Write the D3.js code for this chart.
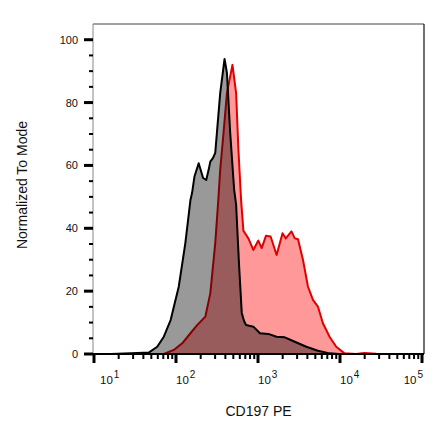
<!DOCTYPE html>
<html>
<head>
<meta charset="utf-8">
<script src="https://cdn.jsdelivr.net/npm/d3@7"></script>
<style>
  body { margin: 0; background: #fff; }
  svg { display: block; font-family: "Liberation Sans", Arial, sans-serif; }
</style>
</head>
<body>
<div id="chart"></div>
<script>
// control (isotype) histogram
var controlX = [10, 16, 34, 47, 59, 71, 86, 108, 130, 150, 157, 168, 189, 214, 234, 250, 262, 282, 301,
  346, 391, 418, 458, 512, 541, 589, 634, 676, 716, 878, 1057, 1333, 1686, 2124, 2808, 3890, 5380, 7460, 9860, 100000];
var controlY = [0, 0, 0.3, 0.5, 2.3, 5.5, 10.8, 21.4, 35.3, 49, 51.2, 56.5, 60.7, 56, 55.4, 58.6, 61.2, 62.3, 64,
  83, 93.9, 89.4, 70.4, 52.2, 47.5, 27.8, 13, 10.5, 9.2, 8.7, 6.6, 6.4, 5.5, 5.3, 3.9, 2.3, 1.05, 0.2, 0, 0];

// CD197 PE stained sample
var sampleX = [10, 71, 94, 119, 150, 181, 228, 262, 301, 328, 346, 380, 418, 488, 541, 577, 622, 664, 763, 877,
  1009, 1109, 1250, 1425, 1686, 1991, 2183, 2560, 2808, 3078, 3539, 4070, 4680, 5380, 6190, 7460, 8990,
  11350, 15700, 19800, 27500, 45800, 100000];
var sampleY = [0, 0, 1.3, 3.4, 6.6, 9.2, 11.9, 19.3, 35.3, 49, 58.6, 70.4, 83, 92, 83, 65, 49, 39.2, 36.8, 33.1,
  36.1, 33.7, 37.6, 37.4, 31.5, 38.4, 36.8, 39, 36.8, 36.5, 29.9, 21.4, 17.2, 15.1, 9.8, 5.5, 2.3,
  0.2, 0, 0.3, 0.1, 0, 0];

var xTicks = [10, 100, 1000, 10000, 100000];
var xTickExp = ["1", "2", "3", "4", "5"];
var yTicks = [0, 20, 40, 60, 80, 100];

var width = 440, height = 441;
var pLeft = 93, pRight = 424, pTop = 24, pBottom = 354;

var x = d3.scaleLog().domain([10, 100000]).range([94, 422]);
var y = d3.scaleLinear().domain([0, 105]).range([pBottom, pTop]);

var svg = d3.select("#chart").append("svg")
  .attr("width", width)
  .attr("height", height);

svg.append("defs").append("clipPath").attr("id", "plot")
  .append("rect").attr("x", pLeft).attr("y", pTop - 2)
  .attr("width", pRight - pLeft).attr("height", pBottom - pTop + 4);

var control = controlX.map(function (v, i) { return [v, controlY[i]]; });
var sample = sampleX.map(function (v, i) { return [v, sampleY[i]]; });

var area = d3.area()
  .x(function (d) { return x(d[0]); })
  .y0(y(0))
  .y1(function (d) { return y(d[1]); });
var line = d3.line()
  .x(function (d) { return x(d[0]); })
  .y(function (d) { return y(d[1]); });

var g = svg.append("g").attr("clip-path", "url(#plot)");

// stained sample first, control laid on top of it
g.append("path").attr("d", area(sample)).attr("fill", "rgba(255,0,0,0.4)");
g.append("path").attr("d", line(sample)).attr("fill", "none")
  .attr("stroke", "#e00000").attr("stroke-width", 2).attr("stroke-linejoin", "round");

g.append("path").attr("d", area(control)).attr("fill", "rgba(0,0,0,0.4)");
g.append("path").attr("d", line(control)).attr("fill", "none")
  .attr("stroke", "#000").attr("stroke-width", 2).attr("stroke-linejoin", "round");

// frame
svg.append("line").attr("x1", pLeft).attr("x2", pRight).attr("y1", pTop).attr("y2", pTop)
  .attr("stroke", "#444").attr("stroke-width", 1);
svg.append("line").attr("x1", pRight).attr("x2", pRight).attr("y1", pTop).attr("y2", pBottom)
  .attr("stroke", "#222").attr("stroke-width", 1.3);
svg.append("line").attr("x1", pLeft).attr("x2", pLeft).attr("y1", pTop).attr("y2", pBottom)
  .attr("stroke", "#888").attr("stroke-width", 1);
svg.append("line").attr("x1", pLeft - 9).attr("x2", pRight).attr("y1", pBottom).attr("y2", pBottom)
  .attr("stroke", "#000").attr("stroke-width", 2);

// y ticks
var yMinor = d3.range(5, 105, 5).filter(function (v) { return v % 20 !== 0; });
svg.selectAll(".ymin").data(yMinor).enter().append("line")
  .attr("x1", pLeft - 4).attr("x2", pLeft)
  .attr("y1", function (d) { return y(d); }).attr("y2", function (d) { return y(d); })
  .attr("stroke", "#000").attr("stroke-width", 2);
svg.selectAll(".ymaj").data(yTicks).enter().append("line")
  .attr("x1", pLeft - 9).attr("x2", pLeft)
  .attr("y1", function (d) { return y(d); }).attr("y2", function (d) { return y(d); })
  .attr("stroke", "#000").attr("stroke-width", 3);
svg.selectAll(".ylab").data(yTicks).enter().append("text")
  .attr("x", 78).attr("y", function (d) { return y(d) + 4; })
  .attr("text-anchor", "end").attr("font-size", 11).attr("fill", "#111")
  .text(function (d) { return d; });

// x ticks (log)
var xMinor = [];
xTicks.slice(0, -1).forEach(function (t) {
  for (var k = 2; k < 10; k++) xMinor.push(t * k);
});
svg.selectAll(".xmin").data(xMinor).enter().append("line")
  .attr("x1", function (d) { return x(d); }).attr("x2", function (d) { return x(d); })
  .attr("y1", pBottom).attr("y2", pBottom + 5)
  .attr("stroke", "#000").attr("stroke-width", 2);
svg.selectAll(".xmaj").data(xTicks).enter().append("line")
  .attr("x1", function (d) { return x(d); }).attr("x2", function (d) { return x(d); })
  .attr("y1", pBottom).attr("y2", pBottom + 9)
  .attr("stroke", "#000").attr("stroke-width", 3);

var xl = svg.selectAll(".xlab").data(xTicks).enter().append("text")
  .attr("x", function (d, i) {
    if (i === 0) return x(d) + 6;
    if (i === xTicks.length - 1) return x(d) + 1;
    return x(d);
  })
  .attr("y", 384)
  .attr("text-anchor", function (d, i) { return i === xTicks.length - 1 ? "end" : "start"; })
  .attr("font-size", 11.5).attr("fill", "#111");
xl.append("tspan").text("10");
xl.append("tspan").attr("dy", -6).attr("dx", 1).attr("font-size", 10)
  .text(function (d, i) { return xTickExp[i]; });

// titles
svg.append("text").attr("x", (pLeft + pRight) / 2).attr("y", 416)
  .attr("text-anchor", "middle").attr("font-size", 14).attr("fill", "#111")
  .text("CD197 PE");
svg.append("text").attr("transform", "translate(27,185) rotate(-90)")
  .attr("text-anchor", "middle").attr("font-size", 14).attr("fill", "#111")
  .text("Normalized To Mode");
</script>
</body>
</html>
